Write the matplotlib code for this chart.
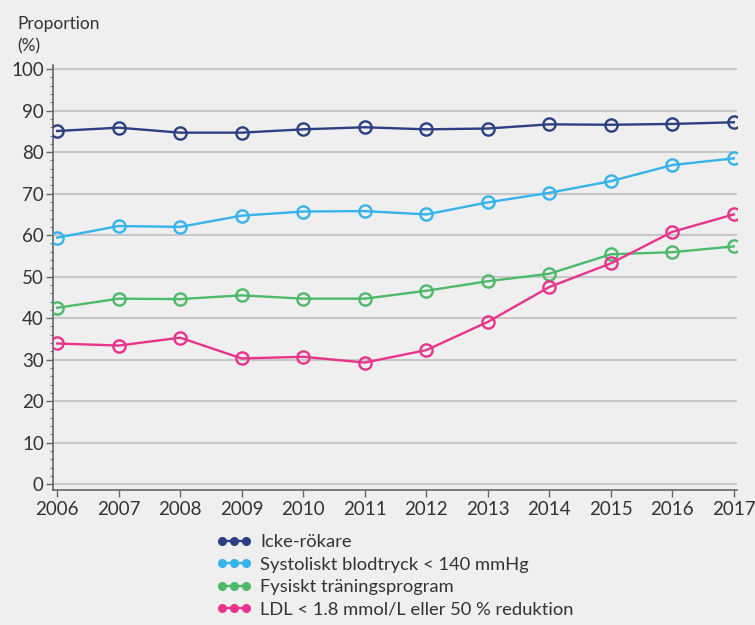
import matplotlib
matplotlib.use("Agg")
import matplotlib.pyplot as plt
from matplotlib.lines import Line2D
from matplotlib.ticker import MultipleLocator

years = [2006, 2007, 2008, 2009, 2010, 2011, 2012, 2013, 2014, 2015, 2016, 2017]
icke_rokare = [85.1, 85.9, 84.7, 84.7, 85.5, 86.0, 85.5, 85.7, 86.7, 86.6, 86.8, 87.2]
systoliskt = [59.4, 62.2, 62.0, 64.7, 65.7, 65.8, 65.0, 67.9, 70.2, 73.0, 76.9, 78.5]
fysiskt = [42.5, 44.7, 44.6, 45.5, 44.7, 44.7, 46.6, 48.9, 50.7, 55.4, 55.9, 57.3]
ldl = [33.9, 33.4, 35.3, 30.3, 30.7, 29.3, 32.3, 39.1, 47.5, 53.2, 60.8, 65.0]

labels = ["Icke-rökare", "Systoliskt blodtryck < 140 mmHg",
          "Fysiskt träningsprogram", "LDL < 1.8 mmol/L eller 50 % reduktion"]
colors = ["#2c3f82", "#35b3ea", "#4dba6b", "#e8348b"]
series = [icke_rokare, systoliskt, fysiskt, ldl]

bg = "#efefef"
text_c = "#333333"
plt.rcParams["font.family"] = ["Lato", "DejaVu Sans"]

fig = plt.figure(figsize=(7.55, 6.25), dpi=100, facecolor=bg)
ax = fig.add_axes([0.070, 0.216, 0.906, 0.680], facecolor=bg)

for vals, c in zip(series, colors):
    ax.plot(years, vals, color=c, lw=1.7, marker="o", markersize=8.8,
            markerfacecolor="none", markeredgecolor=c, markeredgewidth=1.7,
            zorder=3)

ax.set_xlim(2005.93, 2017.05)
ax.set_ylim(-1.4, 101)
ax.set_xticks(years)
ax.set_yticks(range(0, 101, 10))
ax.yaxis.set_minor_locator(MultipleLocator(2))
ax.grid(axis="y", which="major", color="#c8c8c8", lw=1.5, zorder=0)

for s in ["top", "right"]:
    ax.spines[s].set_visible(False)
for s in ["left", "bottom"]:
    ax.spines[s].set_color("#666666")
    ax.spines[s].set_linewidth(1.2)

ax.tick_params(axis="both", which="major", colors="#666666", length=5,
               width=1.0, labelsize=13.5, labelcolor=text_c)
ax.tick_params(axis="y", which="minor", colors="#777777", length=2.5, width=0.8)
ax.tick_params(axis="x", pad=3)
ax.tick_params(axis="y", pad=1.5)

fig.text(17 / 755, 1 - 24 / 625, "Proportion", fontsize=12.5, color=text_c,
         va="center", ha="left")
fig.text(17 / 755, 1 - 46 / 625, "(%)", fontsize=12.5, color=text_c,
         va="center", ha="left")

handles = [Line2D([], [], color=c, lw=1.7, marker="o", markersize=5.5,
                  markerfacecolor=c, markeredgecolor=c) for c in colors]
fig.legend(handles, labels, loc="upper left",
           bbox_to_anchor=(216 / 755, 1 - 534 / 625), frameon=False,
           numpoints=3, handlelength=1.95, handletextpad=0.45,
           borderpad=0, borderaxespad=0, labelspacing=0.36,
           fontsize=13.2, labelcolor=text_c)

fig.savefig("out.png", dpi=100, facecolor=bg)
